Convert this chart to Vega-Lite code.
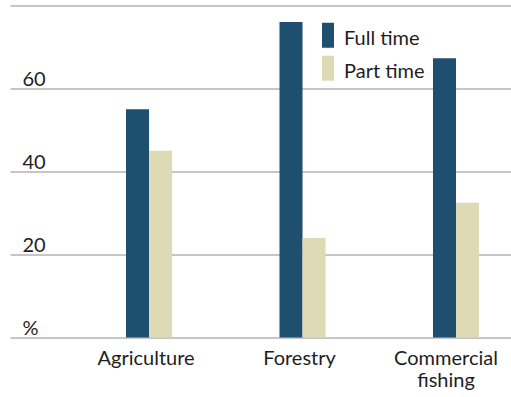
{
  "$schema": "https://vega.github.io/schema/vega-lite/v6.json",
  "width": 501,
  "height": 332,
  "autosize": {"type": "none"},
  "padding": {"left": 10, "top": 5.5, "right": 0, "bottom": 59.5},
  "background": "white",
  "config": {"view": {"stroke": null}, "font": "Lato"},
  "data": {
    "values": [
      {"sector": "Agriculture", "type": "Full time", "pct": 55},
      {"sector": "Agriculture", "type": "Part time", "pct": 45},
      {"sector": "Forestry", "type": "Full time", "pct": 76},
      {"sector": "Forestry", "type": "Part time", "pct": 24},
      {"sector": "Commercial fishing", "type": "Full time", "pct": 67.3},
      {"sector": "Commercial fishing", "type": "Part time", "pct": 32.5}
    ]
  },
  "mark": {"type": "bar"},
  "encoding": {
    "x": {
      "field": "sector",
      "type": "nominal",
      "sort": ["Agriculture", "Forestry", "Commercial fishing"],
      "scale": {"paddingInner": 0.7, "paddingOuter": 0.482, "align": 0.784},
      "axis": {
        "title": null,
        "domain": false,
        "ticks": false,
        "labelAngle": 0,
        "labelFontSize": 20,
        "labelColor": "#1e1e1e",
        "labelPadding": 11,
        "labelOffset": {"condition": {"test": "datum.value == 'Commercial fishing'", "value": -10}, "value": -3},
        "labelExpr": "split(datum.label, ' ')",
        "labelLineHeight": 22,
        "labelBaseline": "top"
      }
    },
    "xOffset": {"field": "type", "type": "nominal", "sort": ["Full time", "Part time"]},
    "y": {
      "field": "pct",
      "type": "quantitative",
      "scale": {"domain": [0, 80], "nice": false},
      "axis": {
        "title": null,
        "values": [0, 20, 40, 60, 80],
        "domain": false,
        "ticks": false,
        "tickSize": 0,
        "grid": true,
        "gridColor": "#c6c6c6",
        "gridWidth": 2,
        "labelAlign": "left",
        "labelPadding": -12,
        "labelBaseline": "alphabetic",
        "labelOffset": -3,
        "labelFontSize": 20,
        "labelColor": "#1e1e1e",
        "labelExpr": "datum.value == 0 ? '%' : datum.value == 80 ? '' : datum.label"
      }
    },
    "color": {
      "field": "type",
      "type": "nominal",
      "scale": {"domain": ["Full time", "Part time"], "range": ["#1e4f6f", "#dedab6"]},
      "legend": {
        "title": null,
        "orient": "none",
        "legendX": 305.5,
        "legendY": 21,
        "symbolType": "M-0.48,-1.3L0.48,-1.3L0.48,0.7L-0.48,0.7Z",
        "symbolSize": 625,
        "symbolStrokeWidth": 0,
        "labelFontSize": 20,
        "labelColor": "#1e1e1e",
        "labelOffset": 3.5,
        "rowPadding": 6,
        "padding": 0
      }
    }
  }
}
